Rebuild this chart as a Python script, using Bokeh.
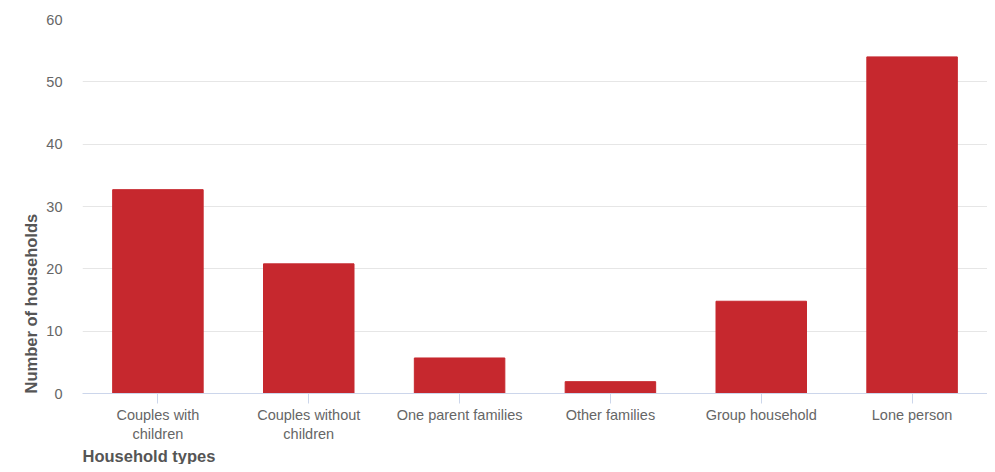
from bokeh.plotting import figure
from bokeh.models import Title, FixedTicker, Range1d
from bokeh.embed import file_html
from bokeh.resources import INLINE

categories = ["Couples with\nchildren", "Couples without\nchildren", "One parent families",
              "Other families", "Group household", "Lone person"]
households = [32.7, 20.8, 5.7, 1.9, 14.8, 54.0]
y_ticks = [0, 10, 20, 30, 40, 50, 60]

FONT = "Liberation Sans"

p = figure(x_range=categories, width=987, height=464, output_backend="svg",
           toolbar_location=None, min_border_left=82, min_border_right=0,
           min_border_top=19, min_border_bottom=0)
p.y_range = Range1d(0, 60)
p.vbar(x=categories, top=households, width=0.6, color="#c6282e")

p.outline_line_color = None
p.background_fill_color = "white"
p.border_fill_color = "white"

p.xgrid.grid_line_color = None
p.ygrid.grid_line_color = "#e6e6e6"
p.ygrid.ticker = FixedTicker(ticks=y_ticks)

yax = p.yaxis[0]
yax.ticker = FixedTicker(ticks=y_ticks)
yax.axis_line_color = None
yax.major_tick_line_color = None
yax.minor_tick_line_color = None
yax.major_tick_out = 0
yax.major_tick_in = 0
yax.minor_tick_out = 0
yax.major_label_text_font = FONT
yax.major_label_text_font_size = "14.5px"
yax.major_label_text_color = "#666666"
yax.major_label_standoff = 20

xax = p.xaxis[0]
xax.axis_line_color = "#ccd6eb"
xax.major_tick_line_color = "#ccd6eb"
xax.major_tick_out = 10
xax.major_tick_in = 0
xax.major_label_text_font = FONT
xax.major_label_text_font_size = "14.5px"
xax.major_label_text_color = "#666666"
xax.major_label_standoff = 3

p.add_layout(Title(text="Household types", align="left", text_font=FONT,
                   text_font_size="16.5px", text_font_style="bold",
                   text_color="#555555", standoff=0), "below")
p.add_layout(Title(text="Number of households", align="left", text_font=FONT,
                   text_font_size="16.5px", text_font_style="bold",
                   text_color="#555555", standoff=8), "left")

open("out.html", "w").write(file_html(p, INLINE))
